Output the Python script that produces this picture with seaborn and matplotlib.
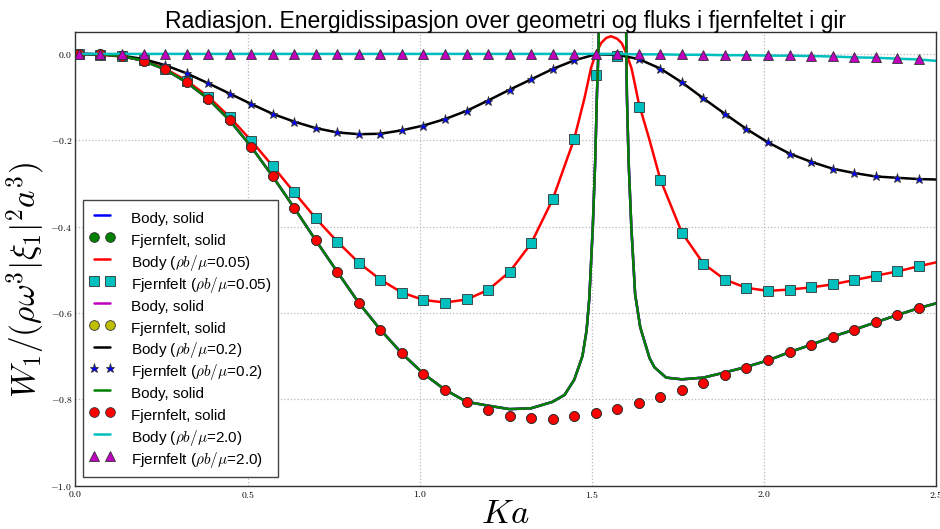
import numpy as np
import matplotlib
matplotlib.use("Agg")
import matplotlib.pyplot as plt
import seaborn as sns

# ---------------- data ----------------
title = "Radiasjon. Energidissipasjon over geometri og fluks i fjernfeltet i gir"

# Ka grid of the far-field (Fjernfelt) markers
ka_fjern = np.linspace(0.01, 2.45, 40)

fjern_solid = [0.0, -0.001, -0.005, -0.016, -0.036, -0.066, -0.104, -0.154, -0.215, -0.284,
               -0.357, -0.432, -0.505, -0.577, -0.639, -0.694, -0.741, -0.778, -0.806, -0.826,
               -0.839, -0.844, -0.846, -0.839, -0.832, -0.822, -0.809, -0.795, -0.779, -0.762,
               -0.745, -0.727, -0.710, -0.691, -0.674, -0.655, -0.639, -0.622, -0.605, -0.589]

fjern_005 = [0.0, -0.002, -0.006, -0.015, -0.034, -0.062, -0.099, -0.146, -0.201, -0.260,
             -0.321, -0.381, -0.435, -0.484, -0.523, -0.553, -0.570, -0.576, -0.569, -0.547,
             -0.505, -0.439, -0.337, -0.197, -0.050, -0.005, -0.123, -0.291, -0.414, -0.486,
             -0.523, -0.542, -0.549, -0.546, -0.541, -0.534, -0.524, -0.514, -0.504, -0.492]

fjern_02 = [0.0, -0.001, -0.004, -0.012, -0.026, -0.045, -0.068, -0.092, -0.116, -0.139,
            -0.157, -0.172, -0.182, -0.186, -0.185, -0.177, -0.166, -0.151, -0.132, -0.108,
            -0.083, -0.059, -0.035, -0.015, -0.001, -0.002, -0.012, -0.034, -0.066, -0.103,
            -0.139, -0.174, -0.205, -0.231, -0.250, -0.266, -0.276, -0.284, -0.287, -0.290]

fjern_20 = [0.0, 0.0, 0.0, 0.0, 0.0, 0.0, 0.0, 0.0, 0.0, 0.0,
            0.0, 0.0, 0.0, 0.0, 0.0, 0.0, 0.0, 0.0, 0.0, 0.0,
            0.0, 0.0, 0.0, 0.0, 0.0, 0.0, -0.001, -0.001, -0.001, -0.002,
            -0.002, -0.002, -0.003, -0.003, -0.004, -0.005, -0.007, -0.008, -0.010, -0.012]

# Body curves
ka_end = 2.5
body_02 = fjern_02 + [-0.291]
body_20 = [0.0] * 26 + [-0.001, -0.001, -0.002, -0.002, -0.003, -0.003, -0.004, -0.004,
                        -0.005, -0.006, -0.008, -0.009, -0.011, -0.013, -0.016]

ka_body_005_peak = [1.479, 1.498, 1.5115, 1.527, 1.542, 1.556, 1.5741, 1.587, 1.600,
                    1.615, 1.624, 1.6367, 1.668]
body_005_peak = [-0.102, -0.032, 0.000, 0.025, 0.037, 0.041, 0.035, 0.025, 0.002,
                 -0.032, -0.065, -0.115, -0.200]
body_005_end = -0.483

ka_body_solid_res = [1.421, 1.449, 1.473, 1.485, 1.493, 1.503, 1.510, 1.515, 1.520, 1.525,
                     1.595, 1.602, 1.607, 1.615, 1.626, 1.641, 1.668, 1.682, 1.716]
body_solid_res = [-0.790, -0.755, -0.700, -0.640, -0.565, -0.400, -0.248, -0.094, 0.022, 0.40,
                  0.40, -0.094, -0.248, -0.402, -0.557, -0.634, -0.705, -0.726, -0.750]
body_solid_low = [-0.815, -0.823, -0.821, -0.806]          # Ka grid points 19..22
body_solid_right = [-0.754, -0.750, -0.738, -0.725]        # Ka grid points 28..31
body_solid_end = -0.578

ytick_vals = [0.0, -0.2, -0.4, -0.6, -0.8, -1.0]
ytick_labels = [r"$0.0$", r"$-0.2$", r"$-0.4$", r"$-0.6$", r"$-0.8$", r"$-1.0$"]
xtick_vals = [0.0, 0.5, 1.0, 1.5, 2.0, 2.5]
xtick_labels = [r"$0.0$", r"$0.5$", r"$1.0$", r"$1.5$", r"$2.0$", r"$2.5$"]

# ---------------- assemble curves ----------------
ka_grid = list(ka_fjern)
ka_body = ka_grid + [ka_end]

ka_005 = ka_grid[:24] + ka_body_005_peak + ka_grid[27:] + [ka_end]
val_005 = fjern_005[:24] + body_005_peak + fjern_005[27:] + [body_005_end]

ka_solid = ka_grid[:23] + ka_body_solid_res + ka_grid[28:] + [ka_end]
val_solid = (fjern_solid[:19] + body_solid_low + body_solid_res + body_solid_right
             + fjern_solid[32:] + [body_solid_end])

# ---------------- style ----------------
sns.set_style("white")
plt.rcParams["font.family"] = ["Liberation Sans", "DejaVu Sans"]
plt.rcParams["mathtext.fontset"] = "cm"
for key in ["text.color", "axes.labelcolor", "xtick.color", "ytick.color"]:
    plt.rcParams[key] = "black"

fig = plt.figure(figsize=(9.4, 5.29), dpi=100)
ax = fig.add_axes([0.0803, 0.0822, 0.9154, 0.8567])

C = dict(b=(0, 0, 1), g=(0, 0.5, 0), r=(1, 0, 0), c=(0, 0.75, 0.75),
         m=(0.75, 0, 0.75), y=(0.75, 0.75, 0), k=(0, 0, 0))
lw = 1.8
mk = dict(linestyle="none", markersize=7, markeredgecolor="#333333", markeredgewidth=0.6)

def body(x, y, col, lab):
    sns.lineplot(x=x, y=y, ax=ax, color=col, lw=lw, label=lab, estimator=None,
                 errorbar=None, sort=False)

def fjern(x, y, col, m, lab, ms=7):
    kw = dict(mk)
    kw["markersize"] = ms
    sns.lineplot(x=x, y=y, ax=ax, color=col, marker=m, label=lab, estimator=None,
                 errorbar=None, sort=False, **kw)

rb = r"$\rho b/\mu$"
body(ka_solid, val_solid, C["b"], "Body, solid")
fjern(ka_grid, fjern_solid, C["g"], "o", "Fjernfelt, solid")
body(ka_005, val_005, C["r"], "Body (" + rb + "=0.05)")
fjern(ka_grid, fjern_005, C["c"], "s", "Fjernfelt (" + rb + "=0.05)", ms=6.5)
body(ka_solid, val_solid, C["m"], "Body, solid")
fjern(ka_grid, fjern_solid, C["y"], "o", "Fjernfelt, solid")
body(ka_body, body_02, C["k"], "Body (" + rb + "=0.2)")
fjern(ka_grid, fjern_02, C["b"], "*", "Fjernfelt (" + rb + "=0.2)", ms=6.5)
body(ka_solid, val_solid, C["g"], "Body, solid")
fjern(ka_grid, fjern_solid, C["r"], "o", "Fjernfelt, solid")
body(ka_body, body_20, C["c"], "Body (" + rb + "=2.0)")
fjern(ka_grid, fjern_20, C["m"], "^", "Fjernfelt (" + rb + "=2.0)", ms=7)

ax.set_xlim(0, 2.5)
ax.set_ylim(-1.0, 0.05)
ax.set_xticks(xtick_vals)
ax.set_xticklabels(xtick_labels, fontsize=7)
ax.set_yticks(ytick_vals)
ax.set_yticklabels(ytick_labels, fontsize=7)
ax.tick_params(axis="both", which="major", direction="in", length=0, pad=2.5)
ax.grid(True, color="#b8b8b8", linestyle=":", linewidth=0.9)
for s in ax.spines.values():
    s.set_color("#333333")
    s.set_linewidth(1.0)

ax.set_title(title, fontsize=16.5, pad=3)
ax.set_xlabel(r"$Ka$", fontsize=25)
ax.set_ylabel(r"$W_1/(\rho\omega^3|\xi_1|^2a^3)$", fontsize=24)
ax.xaxis.set_label_coords(0.5, -0.025)
ax.xaxis.label.set_va("top")
ax.yaxis.set_label_coords(-0.033, 0.453)

handles, labels = ax.get_legend_handles_labels()
leg = ax.legend(handles, labels, loc="lower left", bbox_to_anchor=(0.0087, 0.0188),
                borderaxespad=0, numpoints=2, fontsize=11, handlelength=1.6,
                handleheight=1.83, handletextpad=1.1, labelspacing=0.0, borderpad=0.45,
                fancybox=False, framealpha=1, edgecolor="#444444")
leg.get_frame().set_linewidth(1.0)

fig.savefig("out.png", dpi=100)
